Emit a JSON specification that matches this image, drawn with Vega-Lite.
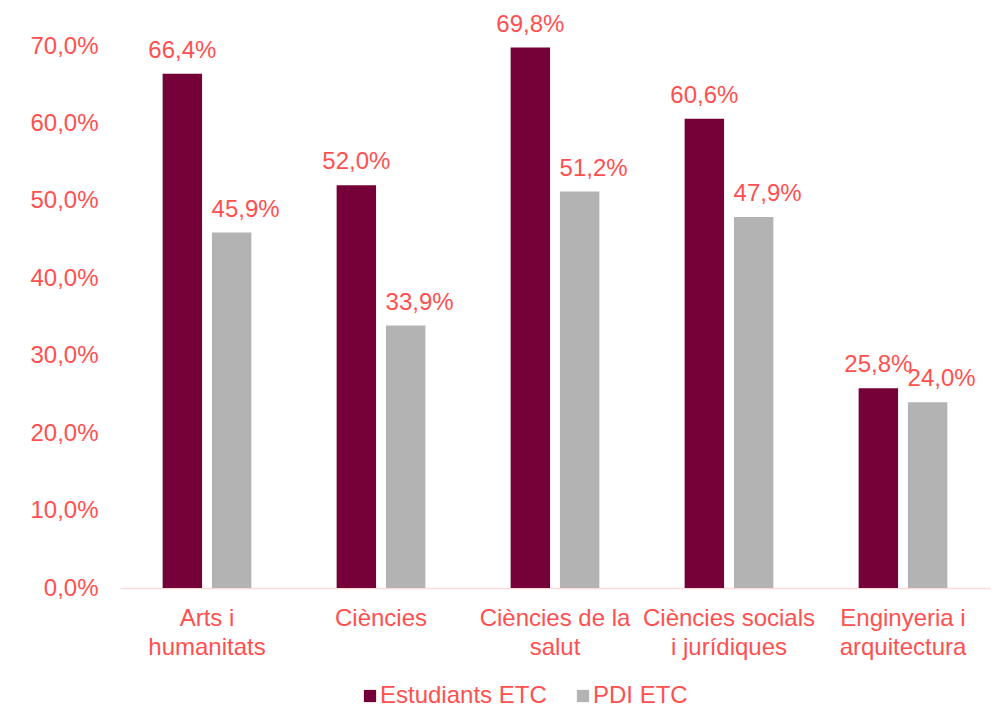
{
  "$schema": "https://vega.github.io/schema/vega-lite/v6.json",
  "width": 870,
  "height": 542,
  "autosize": {"type": "none"},
  "padding": {"left": 120, "top": 46, "right": 12, "bottom": 119},
  "background": "white",
  "config": {
    "locale": {"number": {"decimal": ",", "thousands": ".", "grouping": [3], "currency": ["", " €"]}},
    "view": {"stroke": null},
    "font": "Liberation Sans"
  },
  "data": {
    "values": [
      {"area": "Arts i humanitats", "serie": "Estudiants ETC", "v": 0.664},
      {"area": "Arts i humanitats", "serie": "PDI ETC", "v": 0.459},
      {"area": "Ciències", "serie": "Estudiants ETC", "v": 0.520},
      {"area": "Ciències", "serie": "PDI ETC", "v": 0.339},
      {"area": "Ciències de la salut", "serie": "Estudiants ETC", "v": 0.698},
      {"area": "Ciències de la salut", "serie": "PDI ETC", "v": 0.512},
      {"area": "Ciències socials i jurídiques", "serie": "Estudiants ETC", "v": 0.606},
      {"area": "Ciències socials i jurídiques", "serie": "PDI ETC", "v": 0.479},
      {"area": "Enginyeria i arquitectura", "serie": "Estudiants ETC", "v": 0.258},
      {"area": "Enginyeria i arquitectura", "serie": "PDI ETC", "v": 0.240}
    ]
  },
  "encoding": {
    "x": {
      "field": "area", "type": "nominal", "sort": null,
      "scale": {"paddingInner": 0.49, "paddingOuter": 0.245},
      "axis": {
        "title": null, "labelAngle": 0, "ticks": false,
        "domainColor": "#FFD9D9", "domainWidth": 1.5,
        "labelColor": "#FF5050", "labelFontSize": 24, "labelFont": "Liberation Sans",
        "labelBaseline": "top", "labelPadding": 18, "labelLineHeight": 29, "labelLimit": 0, "labelOverlap": false,
        "labelExpr": "datum.label == 'Arts i humanitats' ? ['Arts i', 'humanitats'] : datum.label == 'Ciències de la salut' ? ['Ciències de la', 'salut'] : datum.label == 'Ciències socials i jurídiques' ? ['Ciències socials', 'i jurídiques'] : datum.label == 'Enginyeria i arquitectura' ? ['Enginyeria i', 'arquitectura'] : datum.label"
      }
    },
    "xOffset": {"field": "serie", "type": "nominal", "scale": {"paddingInner": 0.2, "paddingOuter": 0}},
    "y": {
      "field": "v", "type": "quantitative",
      "scale": {"domain": [0, 0.7], "nice": false},
      "axis": {
        "title": null, "format": ".1%", "values": [0, 0.1, 0.2, 0.3, 0.4, 0.5, 0.6, 0.7],
        "grid": false, "domain": false, "ticks": false, "labelOverlap": false,
        "labelColor": "#FF5050", "labelFontSize": 24, "labelFont": "Liberation Sans",
        "labelPadding": 22
      }
    }
  },
  "layer": [
    {
      "mark": {"type": "bar", "clip": false},
      "encoding": {
        "color": {
          "field": "serie", "type": "nominal",
          "scale": {"domain": ["Estudiants ETC", "PDI ETC"], "range": ["#760038", "#B3B3B3"]},
          "legend": {
            "title": null, "orient": "none", "direction": "horizontal",
            "legendX": 238, "legendY": 638,
            "symbolType": "square", "symbolSize": 150, "symbolStrokeWidth": 0,
            "labelColor": "#FF5050", "labelFontSize": 24, "labelFont": "Liberation Sans",
            "labelOffset": -2, "columnPadding": 24, "labelLimit": 0
          }
        }
      }
    },
    {
      "transform": [{"filter": "datum.serie == 'Estudiants ETC'"}],
      "mark": {"type": "text", "baseline": "alphabetic", "align": "center", "dy": -16, "fontSize": 24, "color": "#FF5050", "font": "Liberation Sans"},
      "encoding": {
        "xOffset": {"field": "serie", "type": "nominal", "bandPosition": 0.5},
        "text": {"field": "v", "type": "quantitative", "format": ".1%"}
      }
    },
    {
      "transform": [{"filter": "datum.serie == 'PDI ETC'"}],
      "mark": {"type": "text", "baseline": "alphabetic", "align": "center", "dx": 14, "dy": -16, "fontSize": 24, "color": "#FF5050", "font": "Liberation Sans"},
      "encoding": {
        "xOffset": {"field": "serie", "type": "nominal", "bandPosition": 0.5},
        "text": {"field": "v", "type": "quantitative", "format": ".1%"}
      }
    }
  ]
}
